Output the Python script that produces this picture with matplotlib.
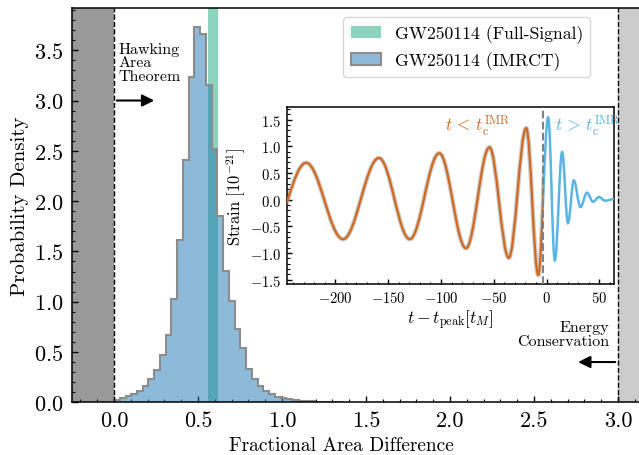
import numpy as np
import matplotlib
matplotlib.use("Agg")
import matplotlib.pyplot as plt
from matplotlib.patches import Patch, PathPatch, Rectangle
from matplotlib.path import Path
from matplotlib.ticker import MultipleLocator

plt.rcParams['font.family'] = ['cmr10', 'DejaVu Serif']
plt.rcParams['mathtext.fontset'] = 'cm'
plt.rcParams['axes.formatter.use_mathtext'] = True
plt.rcParams['axes.unicode_minus'] = True

# ---------------- data ----------------
# histogram of fractional area difference (IMRCT)
bin_start = 0.0
bin_width = 0.0342
imrct_density = [0.02, 0.04, 0.06, 0.08, 0.115, 0.165, 0.23, 0.32, 0.47, 0.67,
                 1.03, 1.61, 2.41, 3.23, 3.73, 3.66, 3.15, 2.52, 1.85, 1.31,
                 1.01, 0.73, 0.54, 0.33, 0.23, 0.165, 0.115, 0.083, 0.056, 0.04,
                 0.03, 0.02, 0.015, 0.01, 0.008, 0.006, 0.004, 0.003, 0.002, 0.001]
# full-signal interval
full_signal_range = [0.56, 0.62]
# bounds
hawking_bound = 0.0
energy_bound = 3.0

# inset waveform: extrema (time in t_M, strain in 1e-21)
wave_t = [-262.0, -227.6, -192.7, -158.7, -129.5, -101.6, -76.3, -54.1, -35.8,
          -19.3, -7.9, 1.5, 7.8, 14.7, 20.2, 25.8, 32.0, 38.3, 44.0, 49.5, 55.5, 64.0]
wave_h = [-0.66, 0.69, -0.74, 0.78, -0.74, 0.87, -0.91, 0.98, -1.09,
          1.34, -1.41, 1.54, -1.14, 0.89, -0.44, 0.36, -0.14, 0.13, -0.04, 0.05, -0.02, 0.01]
t_cut = -3.2

# ---------------- figure ----------------
fig = plt.figure(figsize=(6.39, 4.56), dpi=100)
ax = fig.add_axes([0.1127, 0.1156, 0.9202, 0.8647])
ax.set_xlim(-0.25, 3.25)
ax.set_ylim(0, 3.92)

ax.axvspan(-0.25, hawking_bound, color='#999999', lw=0, zorder=0)
ax.axvspan(energy_bound, 3.25, color='#cccccc', lw=0, zorder=0)
ax.axvline(hawking_bound, color='k', ls='--', lw=1.0, zorder=3)
ax.axvline(energy_bound, color='k', ls='--', lw=1.0, zorder=3)

teal = '#1dab80'
ax.axvspan(full_signal_range[0], full_signal_range[1], color=teal, alpha=0.5, lw=0, zorder=1)

edges = bin_start + bin_width * np.arange(len(imrct_density) + 1)
ax.stairs(imrct_density, edges, fill=True, color='#1f77b4', alpha=0.5, lw=0, zorder=2)
ax.stairs(imrct_density, edges, color='#8c8c8c', lw=1.5, zorder=2.5, baseline=None)

ax.set_xticks([0.0, 0.5, 1.0, 1.5, 2.0, 2.5, 3.0])
ax.set_xticklabels(['0.0', '0.5', '1.0', '1.5', '2.0', '2.5', '3.0'])
ax.xaxis.set_minor_locator(MultipleLocator(0.1))
ax.yaxis.set_major_locator(MultipleLocator(0.5))
ax.yaxis.set_minor_locator(MultipleLocator(0.1))
ax.tick_params(which='both', direction='in', top=False, right=False, labelsize=16)
ax.tick_params(which='major', length=4, width=1.0, pad=6)
ax.tick_params(which='minor', length=2, width=0.8)
for s in ax.spines.values():
    s.set_linewidth(1.1)
ax.set_xlabel('Fractional Area Difference', fontsize=14)
ax.xaxis.set_label_coords(0.458, -0.085)
ax.set_ylabel('Probability Density', fontsize=15, labelpad=4)

ax.text(0.024, 3.38, 'Hawking\nArea\nTheorem', ha='left', va='center',
        fontsize=11.5, linespacing=1.0, zorder=4)
ax.annotate('', xy=(0.256, 3.0), xytext=(0.0, 3.0),
            arrowprops=dict(arrowstyle='-|>', color='k', lw=1.5, mutation_scale=18), zorder=4)
ax.text(2.946, 0.68, 'Energy\nConservation', ha='right', va='center',
        fontsize=11.5, linespacing=1.0, multialignment='right', zorder=4)
ax.annotate('', xy=(2.746, 0.40), xytext=(3.0, 0.40),
            arrowprops=dict(arrowstyle='-|>', color='k', lw=1.5, mutation_scale=18), zorder=4)

handles = [Patch(facecolor=teal, alpha=0.5, edgecolor='none'),
           Patch(facecolor='#8fbbd9', edgecolor='#8c8c8c', lw=1.5)]
leg = ax.legend(handles, ['GW250114 (Full-Signal)', 'GW250114 (IMRCT)'],
                loc='upper right', bbox_to_anchor=(0.881, 0.977), borderaxespad=0,
                fontsize=12.7, handlelength=1.7, frameon=True, fancybox=True)
leg.get_frame().set_edgecolor('#cccccc')

# ---------------- inset ----------------
axi = fig.add_axes([0.4487, 0.375, 0.5125, 0.3875])
axi.set_xlim(-246, 64)
axi.set_ylim(-1.58, 1.73)

c = 0.36
verts = [(wave_t[0], wave_h[0])]
codes = [Path.MOVETO]
for i in range(1, len(wave_t)):
    t0, h0 = wave_t[i - 1], wave_h[i - 1]
    t1, h1 = wave_t[i], wave_h[i]
    d = t1 - t0
    verts += [(t0 + c * d, h0), (t1 - c * d, h1), (t1, h1)]
    codes += [Path.CURVE4] * 3
wpath = Path(verts, codes)

orange = '#d2691e'
skyblue = '#5ab4e4'
y0, y1 = axi.get_ylim()
x0, x1 = axi.get_xlim()

band = PathPatch(wpath, fill=False, edgecolor='#9a9a9a', lw=3.3, alpha=0.5, zorder=2)
axi.add_patch(band)
band.set_clip_path(Rectangle((x0, y0), t_cut - x0, y1 - y0, transform=axi.transData))

pre = PathPatch(wpath, fill=False, edgecolor=orange, lw=1.6, zorder=3)
axi.add_patch(pre)
pre.set_clip_path(Rectangle((x0, y0), t_cut - x0, y1 - y0, transform=axi.transData))

post = PathPatch(wpath, fill=False, edgecolor=skyblue, lw=1.8, zorder=3)
axi.add_patch(post)
post.set_clip_path(Rectangle((t_cut, y0), x1 - t_cut, y1 - y0, transform=axi.transData))

axi.axvline(t_cut, color='#808080', ls='--', lw=1.5, zorder=4)

axi.text(-34, 1.40, r'$t\,<\,t_{\rm c}^{\rm IMR}$', color=orange, ha='right', va='center', fontsize=12.5)
axi.text(7.5, 1.40, r'$t\,>\,t_{\rm c}^{\rm IMR}$', color=skyblue, ha='left', va='center', fontsize=12.5)

axi.set_xticks([-200, -150, -100, -50, 0, 50])
axi.xaxis.set_minor_locator(MultipleLocator(10))
axi.yaxis.set_major_locator(MultipleLocator(0.5))
axi.yaxis.set_minor_locator(MultipleLocator(0.1))
axi.tick_params(which='both', direction='in', top=False, right=False, labelsize=10.5)
axi.tick_params(which='major', length=3.5, width=1.0, pad=4)
axi.tick_params(which='minor', length=1.8, width=0.8)
for s in axi.spines.values():
    s.set_linewidth(1.1)
axi.set_xlabel(r'$t - t_{\rm peak} [t_M]$', fontsize=12.5, labelpad=2)
axi.set_ylabel(r'Strain $[10^{-21}]$', fontsize=12, labelpad=1)

fig.savefig('out.png', dpi=100)
